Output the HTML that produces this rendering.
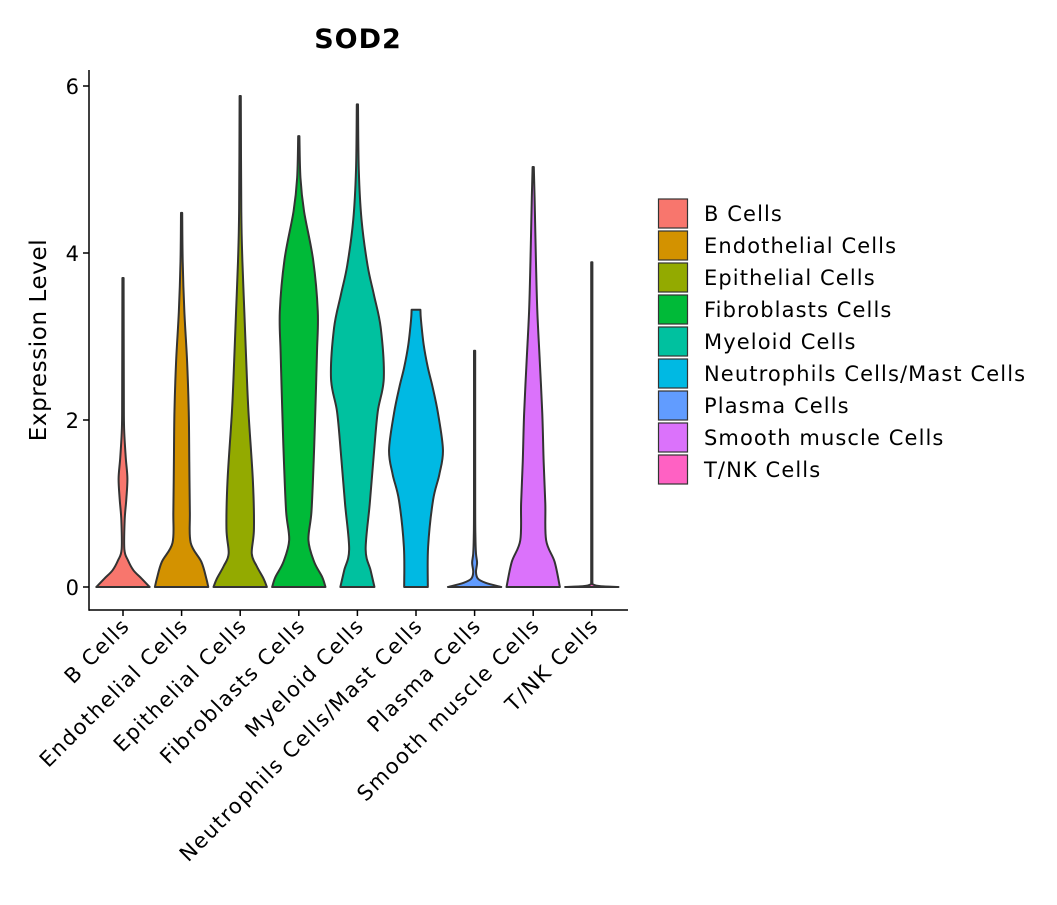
<!DOCTYPE html>
<html><head><meta charset="utf-8"><style>
body{margin:0;background:#fff}
svg text{font-family:"DejaVu Sans","Liberation Sans",sans-serif;fill:#000}
</style></head><body>
<svg id="chart" width="1057" height="900" xmlns="http://www.w3.org/2000/svg">
<text x="358" y="48" text-anchor="middle" font-size="27" font-weight="bold" letter-spacing="1">SOD2</text>
<text transform="translate(46,340) rotate(-90)" text-anchor="middle" font-size="23" letter-spacing="0.6">Expression Level</text>
<g id="plot"></g>
<g id="legend"></g>
</svg>
<script>
const categories=["B Cells","Endothelial Cells","Epithelial Cells","Fibroblasts Cells","Myeloid Cells","Neutrophils Cells/Mast Cells","Plasma Cells","Smooth muscle Cells","T/NK Cells"];
const colors=["#F8766D","#D39200","#93AA00","#00BA38","#00C19F","#00B9E3","#619CFF","#DB72FB","#FF61C3"];
const yTicks=[0,2,4,6];
const lvB=[0,0.1,0.2,0.32,0.45,0.8,1.05,1.3,1.55,1.9,2.3,3.7];
const wdB=[0.97,0.68,0.38,0.18,0.05,0.06,0.12,0.16,0.1,0.04,0.03,0.02];
const lvEn=[0,0.1,0.3,0.53,0.9,1.5,2.1,2.7,3.3,3.9,4.48];
const wdEn=[0.97,0.9,0.72,0.33,0.3,0.28,0.26,0.2,0.1,0.04,0.02];
const lvEp=[0,0.1,0.25,0.4,0.7,1.28,2.1,2.7,3.3,3.9,4.5,5.88];
const wdEp=[0.97,0.85,0.6,0.42,0.5,0.46,0.3,0.22,0.15,0.08,0.04,0.02];
const lvF=[0,0.12,0.3,0.56,0.9,1.5,2.1,2.8,3.3,3.92,4.5,4.9,5.4];
const wdF=[0.97,0.85,0.56,0.35,0.46,0.54,0.6,0.66,0.69,0.52,0.19,0.06,0.02];
const lvM=[0,0.2,0.45,1.0,1.6,2.1,2.5,3.1,3.5,3.85,4.4,5.0,5.78];
const wdM=[0.62,0.48,0.3,0.45,0.6,0.74,0.96,0.85,0.6,0.37,0.15,0.05,0.02];
const lvN=[0,0.48,1.04,1.35,1.64,2.08,2.4,2.63,2.9,3.2,3.32];
const wdN=[0.43,0.44,0.62,0.85,0.98,0.8,0.6,0.43,0.28,0.18,0.16];
const lvP=[0,0.05,0.1,0.18,0.29,0.4,0.6,1.0,2.83];
const wdP=[0.97,0.4,0.12,0.05,0.09,0.05,0.03,0.02,0.02];
const lvS=[0,0.3,0.56,1.0,1.5,2.08,2.7,3.3,3.9,4.67,5.03];
const wdS=[0.97,0.78,0.47,0.44,0.38,0.33,0.24,0.15,0.1,0.05,0.02];
const lvT=[0,0.01,0.03,0.06,3.89];
const wdT=[0.97,0.3,0.05,0.02,0.02];
const levels=[lvB,lvEn,lvEp,lvF,lvM,lvN,lvP,lvS,lvT];
const widths=[wdB,wdEn,wdEp,wdF,wdM,wdN,wdP,wdS,wdT];

const NS="http://www.w3.org/2000/svg";
const L=89,R=628,T=70,B=610;
const y=v=>587-v*83.5;
const x=i=>123+i*58.6;
const maxHalf=27.5;
function mk(t,a,p){const e=document.createElementNS(NS,t);for(const k in a)e.setAttribute(k,a[k]);(p||plot).appendChild(e);return e;}
const plot=document.getElementById('plot');
const legend=document.getElementById('legend');
const clamp=(v,a,b)=>Math.min(Math.max(v,Math.min(a,b)),Math.max(a,b));
function smooth(pts){
  let d="M"+pts[0][0]+","+pts[0][1];
  for(let i=0;i<pts.length-1;i++){
    const p0=pts[Math.max(0,i-1)],p1=pts[i],p2=pts[i+1],p3=pts[Math.min(pts.length-1,i+2)];
    const c1=[p1[0]+(p2[0]-p0[0])/6,clamp(p1[1]+(p2[1]-p0[1])/6,p1[1],p2[1])];
    const c2=[p2[0]-(p3[0]-p1[0])/6,clamp(p2[1]-(p3[1]-p1[1])/6,p1[1],p2[1])];
    d+=" C"+c1[0].toFixed(2)+","+c1[1].toFixed(2)+" "+c2[0].toFixed(2)+","+c2[1].toFixed(2)+" "+p2[0].toFixed(2)+","+p2[1].toFixed(2);
  }
  return d;
}
categories.forEach((c,i)=>{
  const lv=levels[i],wd=widths[i],cx=x(i);
  const right=lv.map((v,k)=>[cx+Math.max(0.6,wd[k]*maxHalf),y(v)]);
  const left=lv.map((v,k)=>[cx-Math.max(0.6,wd[k]*maxHalf),y(v)]).reverse();
  let d=smooth(right);
  d+=" L"+left[0][0].toFixed(2)+","+left[0][1].toFixed(2);
  d+=smooth(left).replace(/^M[^C]*/,"");
  d+=" Z";
  const p=mk('path',{d:d,fill:colors[i],stroke:'#333333','stroke-width':2,'stroke-linejoin':'round'});
  
  
  const tk=mk('line',{x1:cx,x2:cx,y1:B,y2:B+6,stroke:'#000','stroke-width':1.5});
  
  
  const t=mk('text',{transform:`translate(${cx+8},${B+17}) rotate(-45)`,'text-anchor':'end','font-size':21,'letter-spacing':1.5});
  t.textContent=c;
  
  
  const g=mk('g',{},legend);
  
  
  const ly=199+i*32;
  mk('rect',{x:658.5,y:ly,width:29,height:29,fill:colors[i],stroke:'#333','stroke-width':1.2},g);
  const lt=mk('text',{x:704,y:ly+22,'font-size':21,'letter-spacing':1.1},g);
  lt.textContent=c;
});
yTicks.forEach(v=>{
  const l=mk('line',{x1:L-6,x2:L,y1:y(v),y2:y(v),stroke:'#000','stroke-width':1.5});
  
  
  const t=mk('text',{x:L-10,y:y(v)+8,'text-anchor':'end','font-size':21});
  t.textContent=v;
  
  
});
const ya=mk('line',{x1:L,x2:L,y1:T,y2:B+0.75,stroke:'#000','stroke-width':1.5});


const xa=mk('line',{x1:L,x2:R,y1:B,y2:B,stroke:'#000','stroke-width':1.5});


</script>
</body></html>
